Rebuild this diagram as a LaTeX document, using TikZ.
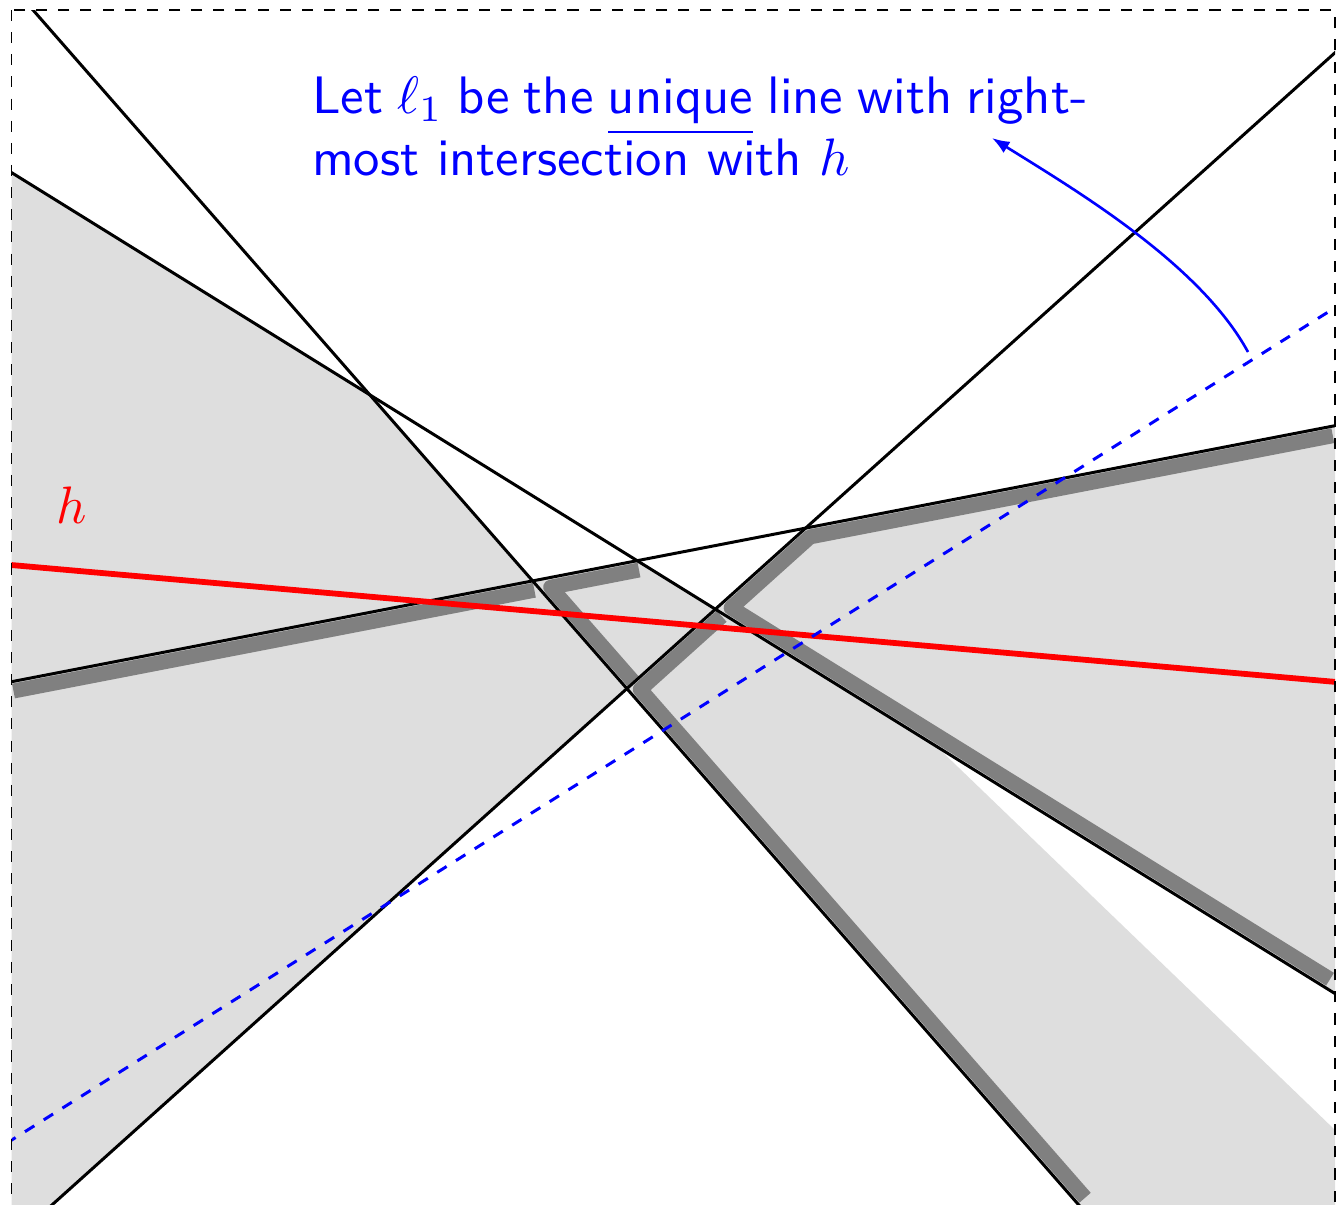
\documentclass[tikz,border=0pt]{standalone}
\usetikzlibrary{arrows.meta}
\begin{document}
\begin{tikzpicture}[x=0.02cm,y=-0.02cm,
  aline/.style={line width=1.7pt,black},
  band/.style={line width=8.5pt,black!50,line join=round},
  region/.style={fill=black!13},
  frame/.style={line width=0.85pt,dash pattern=on 6.3pt off 6.3pt},
  hline/.style={line width=3.3pt,red},
  bline/.style={line width=1.7pt,blue,dash pattern=on 6.3pt off 6.3pt},
  txt/.style={text=blue,font=\fontsize{10}{11.73}\selectfont\sffamily,align=left,inner sep=0pt,scale=3,transform shape},
  hlab/.style={text=red,font=\fontsize{10}{11.73}\selectfont,inner sep=0pt,scale=3,transform shape}]
\path[use as bounding box] (0,0) rectangle (1341,1204);
% line end points
\coordinate (L1a) at (-19.5,-50);   \coordinate (L1b) at (1170.7,1310);
\coordinate (L2a) at (-50,134.4);   \coordinate (L2b) at (1400,1033.9);
\coordinate (L3a) at (-50,1296.5);  \coordinate (L3b) at (1400,-5.7);
\coordinate (L4a) at (-50,693.6);   \coordinate (L4b) at (1400,413.1);
\coordinate (ha) at (-50,559.6);    \coordinate (hb) at (1400,687.6);
\coordinate (ba) at (-50,1178.8);   \coordinate (bb) at (1400,266.8);
% vertices
\coordinate (S) at (11.7,172.7);
\coordinate (A) at (369.7,394.8);
\coordinate (B) at (532.6,580.9);
\coordinate (C) at (637.2,560.7);
\coordinate (D) at (715.3,609.1);
\coordinate (E) at (805.6,528.1);
\coordinate (F) at (626.9,688.7);
\coordinate (R4) at (1335,425.6);
\coordinate (R2) at (1335,993.5);
\coordinate (G) at (936.7,746.5);
\coordinate (Q) at (1335,1130);
\begin{scope}
\clip (11.7,10) rectangle (1335,1210);
\fill[region] (S) -- (A) -- (B) -- (C) -- (D) -- (E) -- (R4) -- (R2) -- (G) -- (Q)
  -- (1335,1210) -- (1083.1,1210) -- (F) -- (46.3,1210) -- (11.7,1210) -- cycle;
% level chains
\draw[band] (13.5,691.0) -- (534.4,590.2);
\draw[band] (639.0,570.0) -- (550.6,587.2) -- (634.0,682.4);
\draw[band] (721.6,616.2) -- (640.2,689.4) -- (1085.1,1197.7);
\draw[band] (1332.8,435.7) -- (810.0,536.9) -- (731.1,607.8) -- (1330.0,979.2);
% lines
\draw[aline] (L1a) -- (L1b);
\draw[aline] (L2a) -- (L2b);
\draw[aline] (L3a) -- (L3b);
\draw[aline] (L4a) -- (L4b);
\draw[hline] (ha) -- (hb);
\draw[bline] (ba) -- (bb);
\end{scope}
\draw[frame] (11.7,10) rectangle (1335,1206);
\node[hlab,anchor=base west] (hlabel) at (55,523) {$h$};
\node[txt,anchor=north west] (caption) at (311,76.3)
  {{\spaceskip=2.73pt Let $\ell_1$ be the \underline{unique} line with right-}\\most intersection with $h$};
\coordinate (arrstart) at (1248,352);
\coordinate (arrend) at (992,138);
\draw[blue,line width=1.5pt,-{Latex[length=10pt,width=7.5pt]}]
  (arrstart) .. controls (1200,264) and (1077,191) .. (arrend);
\end{tikzpicture}
\end{document}
